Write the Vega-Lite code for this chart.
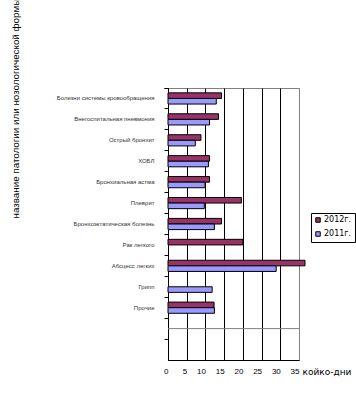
{
  "$schema": "https://vega.github.io/schema/vega-lite/v6.json",
  "autosize": {"type": "none"},
  "padding": {"left": 168, "top": 88, "right": 57, "bottom": 42},
  "width": 131,
  "height": 272,
  "background": "white",
  "config": {
    "view": {"stroke": "#808080", "strokeWidth": 1},
    "axis": {"domainColor": "black", "tickColor": "black", "labelColor": "black", "titleColor": "black"}
  },
  "encoding": {
    "y": {
      "field": "cat",
      "type": "nominal",
      "sort": null,
      "scale": {
        "domain": ["Болезни системы кровообращения", "Внегоспитальная пневмония", "Острый бронхит", "ХОБЛ", "Бронхиальная астма", "Плеврит", "Бронхоэктатическая болезнь", "Рак легкого", "Абсцесс  легких", "Грипп", "Прочие", " ", "  "],
        "paddingInner": 0,
        "paddingOuter": 0
      },
      "axis": {
        "title": "название патологии или нозологической формы",
        "titleFont": "Liberation Sans",
        "titleFontSize": 9.8,
        "titleFontWeight": "normal",
        "titleAngle": -90,
        "titleX": -152.5,
        "titleY": 130,
        "titleAlign": "left",
        "titleBaseline": "middle",
        "bandPosition": 0,
        "tickExtra": true,
        "tickSize": 4,
        "labelPadding": 10,
        "labelFont": "Liberation Sans",
        "labelFontSize": 6,
        "labelColor": "#333333",
        "labelLimit": 200,
        "labelOverlap": false,
        "grid": false
      }
    },
    "x": {
      "field": "value",
      "type": "quantitative",
      "title": "койко-дни",
      "scale": {"domain": [0, 35], "nice": false, "zero": true},
      "axis": {
        "values": [0, 5, 10, 15, 20, 25, 30, 35],
        "tickCount": 20,
        "grid": true,
        "gridColor": {"condition": {"test": "datum.value == 35", "value": "#808080"}, "value": "black"},
        "gridWidth": 1,
        "ticks": false,
        "labelOverlap": false,
        "labelFont": "Liberation Sans",
        "labelFontSize": 8,
        "labelPadding": 7,
        "labelAlign": "right",
        "labelDx": 1.5,
        "labelFlush": false,
        "titleFont": "DejaVu Sans",
        "titleFontSize": 9,
        "titleFontWeight": "normal",
        "titleX": 134,
        "titleY": 11,
        "titleAlign": "left",
        "titleBaseline": "middle"
      }
    }
  },
  "layer": [
    {
      "data": {
        "values": [
          {"cat": "Болезни системы кровообращения", "year": "2012г.", "value": 14.3},
          {"cat": "Болезни системы кровообращения", "year": "2011г.", "value": 12.9},
          {"cat": "Внегоспитальная пневмония", "year": "2012г.", "value": 13.5},
          {"cat": "Внегоспитальная пневмония", "year": "2011г.", "value": 11.1},
          {"cat": "Острый бронхит", "year": "2012г.", "value": 8.8},
          {"cat": "Острый бронхит", "year": "2011г.", "value": 7.3},
          {"cat": "ХОБЛ", "year": "2012г.", "value": 11.1},
          {"cat": "ХОБЛ", "year": "2011г.", "value": 10.8},
          {"cat": "Бронхиальная астма", "year": "2012г.", "value": 11.1},
          {"cat": "Бронхиальная астма", "year": "2011г.", "value": 9.9},
          {"cat": "Плеврит", "year": "2012г.", "value": 19.6},
          {"cat": "Плеврит", "year": "2011г.", "value": 9.7},
          {"cat": "Бронхоэктатическая болезнь", "year": "2012г.", "value": 14.3},
          {"cat": "Бронхоэктатическая болезнь", "year": "2011г.", "value": 12.4},
          {"cat": "Рак легкого", "year": "2012г.", "value": 20.0},
          {"cat": "Абсцесс  легких", "year": "2012г.", "value": 36.6},
          {"cat": "Абсцесс  легких", "year": "2011г.", "value": 28.9},
          {"cat": "Грипп", "year": "2011г.", "value": 11.8},
          {"cat": "Прочие", "year": "2012г.", "value": 12.3},
          {"cat": "Прочие", "year": "2011г.", "value": 12.4}
        ]
      },
      "mark": {"type": "bar", "stroke": "black", "strokeWidth": 1},
      "encoding": {
        "yOffset": {
          "field": "year",
          "type": "nominal",
          "scale": {"domain": ["2012г.", "2011г."], "paddingInner": 0, "paddingOuter": 0.87}
        },
        "color": {
          "field": "year",
          "type": "nominal",
          "scale": {"domain": ["2012г.", "2011г."], "range": ["#993366", "#9999FF"]},
          "legend": {
            "title": null,
            "orient": "none",
            "legendX": 143,
            "legendY": 125,
            "strokeColor": "black",
            "fillColor": "white",
            "padding": 3,
            "symbolType": "square",
            "symbolSize": 20,
            "symbolStrokeColor": "black",
            "symbolStrokeWidth": 1,
            "labelFont": "DejaVu Sans",
            "labelFontSize": 8,
            "labelOffset": 2,
            "rowPadding": 4
          }
        }
      }
    },
    {
      "data": {"values": [{"cat": " ", "value": 0, "end": 35}]},
      "mark": {"type": "rule", "color": "#808080", "strokeWidth": 1},
      "encoding": {
        "x2": {"field": "end"}
      }
    }
  ]
}
